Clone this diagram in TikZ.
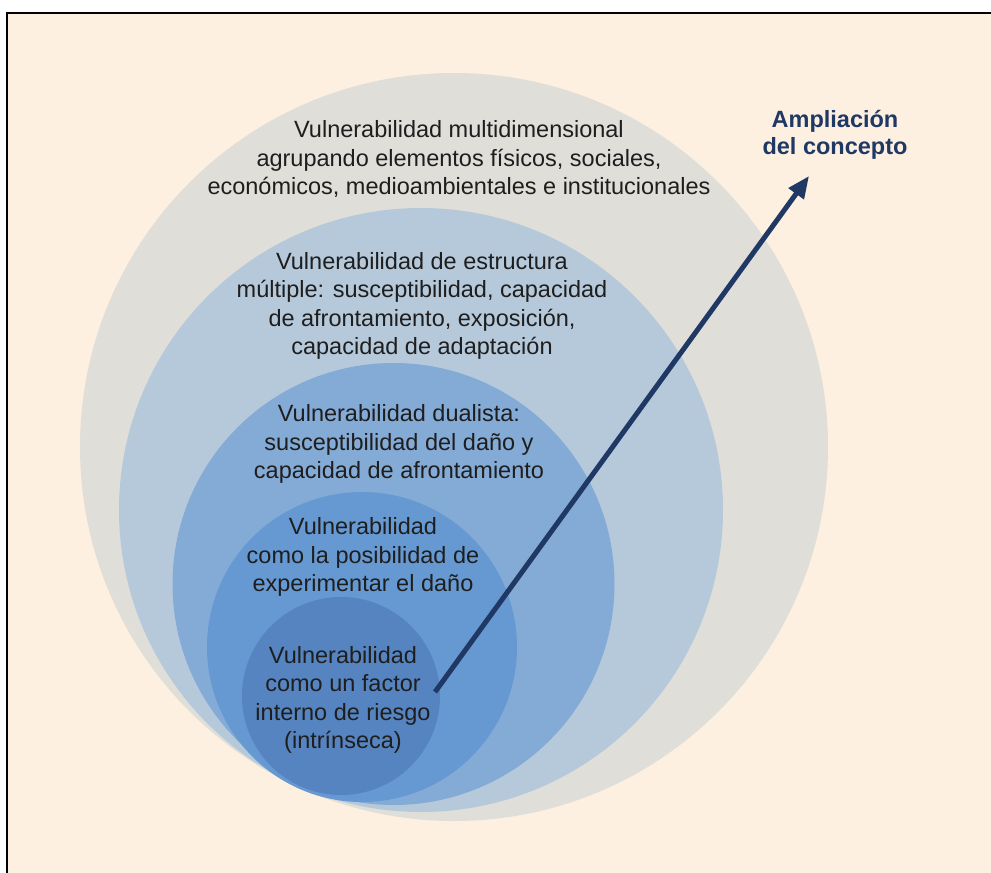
\documentclass[tikz,border=0pt]{standalone}
\usepackage{fontspec}
\setmainfont{Liberation Sans}
\usetikzlibrary{arrows.meta}
\definecolor{cream}{HTML}{FDF0E0}
\definecolor{ringA}{HTML}{DFDED9}
\definecolor{ringB}{HTML}{B6C9DB}
\definecolor{ringC}{HTML}{84AAD6}
\definecolor{ringD}{HTML}{6699D2}
\definecolor{ringE}{HTML}{5584C0}
\definecolor{navy}{HTML}{1F3864}
\definecolor{ink}{HTML}{1E1E1E}
\tikzset{
  lbl/.style={align=center, text=ink, inner sep=0pt, font=\fontsize{23.5pt}{28.4pt}\selectfont},
  ttl/.style={align=center, text=navy, inner sep=0pt, font=\fontsize{23.5pt}{26.5pt}\selectfont\bfseries},
  growarrow/.style={draw=navy, line width=5pt, -{Triangle[length=22pt,width=18pt]}}
}
\begin{document}
\begin{tikzpicture}[x=1pt,y=-1pt]
\useasboundingbox (0,0) rectangle (991,873);
\fill[white] (0,0) rectangle (991,873);
\fill[cream] (7,13) rectangle (991,873);
\draw[line width=2pt] (7,873) -- (7,13) -- (991,13);
% rings
\fill[ringA] (454,447) circle (374);
\fill[ringB] (421,510) circle (302);
\fill[ringC] (393.5,584) circle (221);
\fill[ringD] (362,647) circle (155);
\fill[ringE] (341,696) circle (99);
% texts
\node[lbl] (t1) at (459,159) {Vulnerabilidad multidimensional\\agrupando elementos físicos, sociales,\\económicos, medioambientales e institucionales};
\node[lbl] (t2) at (422,306) {Vulnerabilidad de estructura\\múltiple: susceptibilidad, capacidad\\de afrontamiento, exposición,\\capacidad de adaptación};
\node[lbl] (t3) at (399,444) {Vulnerabilidad dualista:\\susceptibilidad del daño y\\capacidad de afrontamiento};
\node[lbl] (t4) at (363,557) {Vulnerabilidad\\como la posibilidad de\\experimentar el daño};
\node[lbl] (t5) at (343,700) {Vulnerabilidad\\como un factor\\interno de riesgo\\(intrínseca)};
\node[ttl] (t6) at (835,135) {Ampliación\\del concepto};
% arrow
\coordinate (a0) at (435,692);
\coordinate (a1) at (809,176);
\draw[growarrow] (a0) -- (a1);
\end{tikzpicture}
\end{document}
